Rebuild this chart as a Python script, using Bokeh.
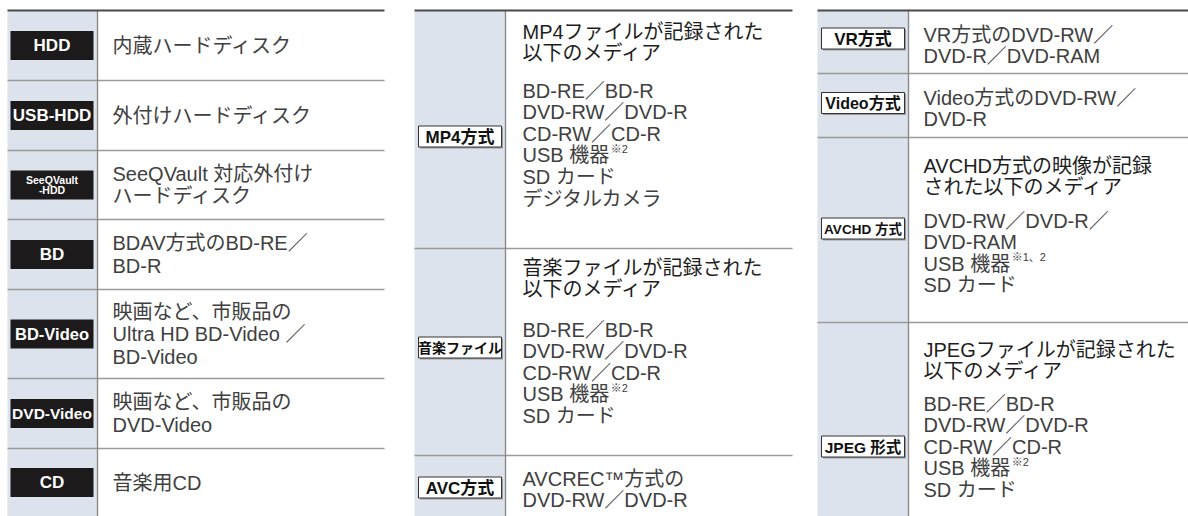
from bokeh.plotting import figure
from bokeh.models import Range1d
from bokeh.core.properties import value
from bokeh.embed import file_html
from bokeh.resources import INLINE

# ---------------- content ----------------
left_badges = ["HDD", "USB-HDD", "SeeQVault\n-HDD", "BD", "BD-Video", "DVD-Video", "CD"]
left_lines = [
    ["内蔵ハードディスク"],
    ["外付けハードディスク"],
    ["SeeQVault 対応外付け", "ハードディスク"],
    ["BDAV方式のBD-RE／", "BD-R"],
    ["映画など、市販品の", "Ultra HD BD-Video ／", "BD-Video"],
    ["映画など、市販品の", "DVD-Video"],
    ["音楽用CD"],
]

mid_badges = ["MP4方式", "音楽ファイル", "AVC方式"]
mid_heads = [
    ["MP4ファイルが記録された", "以下のメディア"],
    ["音楽ファイルが記録された", "以下のメディア"],
    [],
]
mid_lines = [
    ["BD-RE／BD-R", "DVD-RW／DVD-R", "CD-RW／CD-R", "USB 機器", "SD カード", "デジタルカメラ"],
    ["BD-RE／BD-R", "DVD-RW／DVD-R", "CD-RW／CD-R", "USB 機器", "SD カード"],
    ["AVCREC™方式の", "DVD-RW／DVD-R"],
]
mid_notes = [{3: "※2"}, {3: "※2"}, {}]

right_badges = ["VR方式", "Video方式", "AVCHD 方式", "JPEG 形式"]
right_heads = [
    [],
    [],
    ["AVCHD方式の映像が記録", "された以下のメディア"],
    ["JPEGファイルが記録された", "以下のメディア"],
]
right_lines = [
    ["VR方式のDVD-RW／", "DVD-R／DVD-RAM"],
    ["Video方式のDVD-RW／", "DVD-R"],
    ["DVD-RW／DVD-R／", "DVD-RAM", "USB 機器", "SD カード"],
    ["BD-RE／BD-R", "DVD-RW／DVD-R", "CD-RW／CD-R", "USB 機器", "SD カード"],
]
right_notes = [{}, {}, {2: "※1、2"}, {3: "※2"}]

# ---------------- layout / style ----------------
W, H = 1188, 516
TOP = 10
LEFT = dict(x0=7, xdiv=97, x1=384, tx=112, rows=[10, 80, 150, 219, 289, 378, 448, 516])
MID = dict(x0=414, xdiv=505, x1=792, tx=522, rows=[10, 248, 455, 516],
           head_y=[31, 267, None], body_y=[90, 329, 478], badge_y=[136, 347, 487])
RIGHT = dict(x0=817, xdiv=908, x1=1188, tx=923, rows=[10, 73, 137, 322, 516],
             head_y=[None, None, 165, 349], body_y=[34, 97, 220, 403], badge_y=[38, 102.5, 228, 446])
left_badge_sizes = [17, 17, 10.5, 17, 16.5, 15.5, 17]
mid_badge_sizes = [17, 14, 17]
right_badge_sizes = [17, 16, 13.5, 15.5]
LEFT_STEP = 22.5
STEP = 21.6
FS = 20
JP = "Liberation Sans, Noto Sans CJK JP"
COL_BG = "#dde3ed"
TXT = "#404040"
HEAD = "#1e1e1e"
RULE = "#9a9a9a"

LAT = {"U": .722, "S": .667, "B": .667, " ": .278}


def est_width(s, size):
    return sum(LAT.get(c, 0.6 if ord(c) < 128 else 1.0) for c in s) * size


p = figure(width=W, height=H, x_range=Range1d(0, W), y_range=Range1d(H, 0),
           toolbar_location=None, output_backend="svg", min_border=0)
p.axis.visible = False
p.grid.visible = False
p.outline_line_color = None
p.background_fill_color = "white"
p.border_fill_color = "white"

body = dict(x=[], y=[], text=[])
head = dict(x=[], y=[], text=[])
sup = dict(x=[], y=[], text=[])


def frame(t):
    bottom = t["rows"][-1]
    p.quad(left=[t["x0"]], right=[t["xdiv"]], top=[TOP], bottom=[bottom],
           fill_color=COL_BG, line_color=None)
    seps = t["rows"][1:-1]
    p.segment(x0=[t["x0"]] * len(seps), x1=[t["x1"]] * len(seps), y0=seps, y1=seps,
              line_color=RULE, line_width=1.6)
    p.segment(x0=[t["xdiv"]], x1=[t["xdiv"]], y0=[TOP], y1=[bottom], line_color="#8a8a8a", line_width=1.4)
    p.segment(x0=[t["x0"]], x1=[t["x1"]], y0=[TOP], y1=[TOP], line_color="#4a4a4a", line_width=2.2)


for t in (LEFT, MID, RIGHT):
    frame(t)

# ----- left table -----
rows = LEFT["rows"]
bx, by, bt, bs = [], [], [], []
for i, lab in enumerate(left_badges):
    yc = (rows[i] + rows[i + 1]) / 2
    p.quad(left=[10], right=[93], top=[yc - 14.5], bottom=[yc + 14.5], fill_color="#1c1a1a", line_color=None)
    parts = lab.split("\n")
    for k, part in enumerate(parts):
        off = (k - (len(parts) - 1) / 2) * 9.5
        bx.append(51.5); by.append(yc + off); bt.append(part); bs.append(f"{left_badge_sizes[i]}px")
    lines = left_lines[i]
    for k, s in enumerate(lines):
        body["x"].append(LEFT["tx"])
        body["y"].append(yc + (k - (len(lines) - 1) / 2) * LEFT_STEP)
        body["text"].append(s)

p.text(x=bx, y=by, text=bt, text_font_size=bs, text_color="white", text_font_style="bold",
       text_font=value("Liberation Sans"), text_align="center", text_baseline="middle")


# ----- middle & right tables -----
def fill(t, badges, heads, lines, notes, sizes):
    ox, oy, ot, osz = [], [], [], []
    for i, lab in enumerate(badges):
        yc = t["badge_y"][i]
        l, r = t["x0"] + 4, t["xdiv"] - 4
        p.quad(left=[l + 1.5], right=[r + 1.5], top=[yc - 10.5 + 1.5], bottom=[yc + 10.5 + 1.5],
               fill_color="#9a9a9a", line_color=None)
        p.quad(left=[l], right=[r], top=[yc - 10.5], bottom=[yc + 10.5],
               fill_color="white", line_color="#333333", line_width=1)
        ox.append((l + r) / 2); oy.append(yc + 0.5); ot.append(lab); osz.append(f"{sizes[i]}px")
        if heads[i]:
            for k, s in enumerate(heads[i]):
                head["x"].append(t["tx"]); head["y"].append(t["head_y"][i] + k * STEP); head["text"].append(s)
        for k, s in enumerate(lines[i]):
            yy = t["body_y"][i] + k * STEP
            body["x"].append(t["tx"]); body["y"].append(yy); body["text"].append(s)
            if k in notes[i]:
                sup["x"].append(t["tx"] + est_width(s, FS) + 1.5)
                sup["y"].append(yy - 6.5)
                sup["text"].append(notes[i][k])
    p.text(x=ox, y=oy, text=ot, text_font_size=osz, text_color="#111111", text_font_style="bold",
           text_font=value(JP), text_align="center", text_baseline="middle")


fill(MID, mid_badges, mid_heads, mid_lines, mid_notes, mid_badge_sizes)
fill(RIGHT, right_badges, right_heads, right_lines, right_notes, right_badge_sizes)

p.text(x=body["x"], y=body["y"], text=body["text"], text_font_size=f"{FS}px", text_color=TXT,
       text_font=value(JP), text_align="left", text_baseline="middle")
p.text(x=head["x"], y=head["y"], text=head["text"], text_font_size=f"{FS}px", text_color=HEAD,
       text_font=value(JP), text_align="left", text_baseline="middle")
p.text(x=sup["x"], y=sup["y"], text=sup["text"], text_font_size="11px", text_color=TXT,
       text_font=value(JP), text_align="left", text_baseline="middle")

open("out.html", "w").write(file_html(p, INLINE))
